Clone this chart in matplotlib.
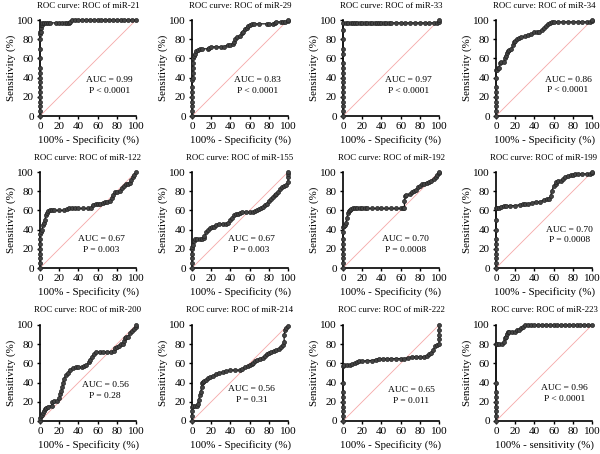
import matplotlib
matplotlib.use("Agg")
import matplotlib.pyplot as plt

plt.rcParams['font.family'] = ['Liberation Serif', 'DejaVu Serif']

titles = ["ROC curve: ROC of miR-21", "ROC curve: ROC of miR-29", "ROC curve: ROC of miR-33", "ROC curve: ROC of miR-34",
          "ROC curve: ROC of miR-122", "ROC curve: ROC of miR-155", "ROC curve: ROC of miR-192", "ROC curve: ROC of miR-199",
          "ROC curve: ROC of miR-200", "ROC curve: ROC of miR-214", "ROC curve: ROC of miR-222", "ROC curve: ROC of miR-223"]
auc_text = ["AUC = 0.99", "AUC = 0.83", "AUC = 0.97", "AUC = 0.86",
            "AUC = 0.67", "AUC = 0.67", "AUC = 0.70", "AUC = 0.70",
            "AUC = 0.56", "AUC = 0.56", "AUC = 0.65", "AUC = 0.96"]
p_text = ["P < 0.0001", "P < 0.0001", "P < 0.0001", "P < 0.0001",
          "P = 0.003", "P = 0.003", "P = 0.0008", "P = 0.0008",
          "P = 0.28", "P = 0.31", "P = 0.011", "P < 0.0001"]
xlabels = ["100% - Specificity (%)"] * 11 + ["100% - sensitivity (%)"]

# ROC curve points (x = 100% - specificity, y = sensitivity)
x21 = [0, 0, 0, 0, 0, 0, 0, 0, 0, 0, 0, 0, 0, 0, 0, 0, 1, 1, 1, 2, 2, 4, 6, 8, 10, 17, 20, 23, 26, 28, 30, 31, 33, 36, 40, 44, 48, 52, 56, 60, 64, 68, 72, 76, 80, 84, 88, 92, 96, 100]
y21 = [0, 5, 10, 15, 20, 25, 30, 35, 40, 45, 50, 60, 70, 80, 85, 88, 88, 92, 95, 95, 97, 97, 97, 97, 97, 97, 97, 97, 97, 97, 97, 98, 100, 100, 100, 100, 100, 100, 100, 100, 100, 100, 100, 100, 100, 100, 100, 100, 100, 100]

x29 = [0, 0, 0, 0, 0, 0, 0, 0, 1, 1, 1, 1, 1, 2, 3, 4, 6, 8, 10, 17, 18, 20, 25, 30, 33, 37, 40, 43, 44, 45, 47, 50, 52, 53, 55, 57, 58, 60, 62, 65, 70, 78, 80, 84, 86, 88, 93, 95, 97, 100, 100]
y29 = [0, 5, 10, 15, 20, 25, 30, 37, 40, 45, 50, 55, 60, 63, 65, 68, 69, 70, 70, 70, 71, 72, 72, 72, 72, 74, 74, 75, 77, 80, 82, 83, 86, 88, 91, 92, 94, 95, 96, 96, 96, 96, 96, 96, 97, 98, 98, 98, 98, 99, 100]

x33 = [0, 0, 0, 0, 0, 0, 0, 0, 0, 0, 0, 0, 0, 0, 0, 0, 0, 3, 5, 8, 10, 13, 15, 18, 20, 23, 25, 28, 30, 33, 35, 38, 40, 43, 45, 48, 50, 55, 60, 65, 70, 75, 80, 85, 90, 95, 98, 100, 100]
y33 = [0, 5, 10, 15, 20, 25, 30, 35, 40, 45, 50, 55, 65, 70, 80, 90, 97, 97, 97, 97, 97, 97, 97, 97, 97, 97, 97, 97, 97, 97, 97, 97, 97, 97, 97, 97, 97, 97, 97, 97, 97, 97, 97, 97, 97, 97, 97, 98, 100]

x34 = [0, 0, 0, 0, 0, 0, 0, 0, 0, 1, 2, 3, 4, 5, 8, 9, 10, 11, 12, 14, 16, 18, 19, 20, 22, 24, 26, 30, 33, 36, 40, 43, 45, 48, 50, 52, 54, 56, 58, 60, 65, 70, 75, 80, 85, 90, 95, 98, 100, 100]
y34 = [0, 5, 10, 15, 20, 25, 30, 40, 48, 48, 50, 50, 55, 56, 56, 60, 63, 66, 68, 69, 70, 74, 77, 78, 80, 81, 82, 83, 84, 85, 87, 87, 88, 90, 92, 94, 96, 97, 98, 98, 98, 98, 98, 98, 98, 98, 98, 98, 99, 100]

x122 = [0, 0, 0, 0, 0, 0, 0, 0, 1, 2, 3, 4, 5, 6, 7, 8, 10, 12, 15, 20, 25, 28, 30, 33, 36, 40, 45, 50, 53, 55, 58, 60, 63, 66, 68, 70, 73, 75, 76, 78, 80, 83, 85, 88, 90, 92, 94, 95, 97, 98, 100]
y122 = [0, 5, 10, 15, 20, 25, 30, 35, 38, 40, 45, 47, 50, 55, 57, 59, 60, 60, 60, 60, 60, 61, 62, 62, 62, 62, 62, 62, 63, 66, 67, 67, 67, 68, 69, 69, 70, 73, 76, 79, 79, 80, 83, 85, 88, 88, 89, 92, 95, 97, 100]

x155 = [0, 0, 0, 0, 0, 0, 1, 2, 3, 5, 8, 10, 12, 13, 15, 17, 19, 21, 23, 25, 28, 32, 35, 38, 40, 42, 44, 46, 48, 50, 52, 56, 60, 64, 66, 68, 70, 72, 74, 76, 78, 80, 82, 84, 86, 88, 90, 92, 94, 96, 98, 100, 100, 100, 100]
y155 = [0, 5, 10, 15, 20, 22, 24, 28, 30, 30, 30, 30, 31, 33, 37, 40, 42, 43, 43, 45, 46, 46, 46, 47, 50, 52, 55, 56, 56, 57, 58, 58, 58, 58, 59, 60, 61, 63, 64, 66, 67, 70, 72, 74, 76, 77, 79, 82, 84, 85, 86, 90, 95, 98, 100]

x192 = [0, 0, 0, 0, 0, 0, 0, 0, 0, 1, 2, 3, 4, 5, 6, 7, 8, 10, 12, 15, 18, 20, 23, 25, 30, 35, 40, 45, 50, 55, 60, 63, 64, 64, 65, 66, 70, 72, 74, 76, 78, 80, 82, 84, 87, 90, 92, 95, 97, 98, 100, 100]
y192 = [0, 5, 10, 15, 20, 25, 30, 38, 43, 44, 45, 47, 52, 57, 59, 60, 61, 62, 62, 62, 62, 62, 62, 62, 62, 62, 62, 62, 62, 62, 62, 62, 62, 70, 75, 76, 77, 79, 80, 81, 84, 85, 87, 88, 89, 90, 91, 93, 95, 97, 99, 100]

x199 = [0, 0, 0, 0, 0, 0, 0, 0, 0, 0, 1, 3, 5, 8, 10, 15, 20, 25, 28, 30, 33, 38, 42, 46, 50, 53, 55, 57, 58, 60, 62, 63, 65, 68, 70, 72, 75, 78, 80, 82, 85, 90, 95, 98, 100, 100]
y199 = [0, 5, 10, 15, 20, 25, 30, 40, 50, 62, 62, 63, 64, 65, 65, 65, 65, 66, 67, 67, 67, 68, 69, 69, 71, 72, 72, 75, 80, 85, 88, 90, 91, 91, 93, 95, 96, 97, 97, 98, 98, 98, 98, 98, 99, 100]

x200 = [0, 0, 1, 2, 3, 4, 5, 6, 8, 12, 13, 15, 18, 20, 21, 22, 23, 24, 25, 27, 29, 31, 34, 37, 40, 44, 46, 48, 51, 52, 54, 56, 58, 62, 66, 70, 74, 77, 78, 80, 82, 84, 86, 88, 89, 90, 92, 94, 96, 98, 100, 100]
y200 = [0, 3, 5, 6, 8, 10, 12, 14, 15, 16, 20, 21, 21, 24, 28, 31, 35, 40, 44, 48, 50, 53, 55, 56, 56, 56, 57, 58, 61, 64, 67, 70, 72, 72, 72, 72, 72, 73, 76, 77, 78, 80, 80, 83, 86, 87, 88, 92, 94, 96, 98, 100]

x214 = [0, 0, 0, 0, 1, 3, 5, 6, 7, 8, 9, 10, 10, 11, 13, 15, 17, 19, 22, 25, 28, 32, 35, 40, 45, 50, 52, 55, 58, 60, 62, 64, 66, 68, 71, 74, 76, 78, 80, 82, 85, 88, 91, 93, 95, 96, 96, 97, 98, 100]
y214 = [0, 5, 10, 15, 16, 16, 16, 18, 22, 27, 30, 35, 40, 41, 42, 43, 45, 46, 47, 49, 50, 51, 52, 53, 53, 53, 54, 56, 57, 58, 59, 60, 62, 64, 65, 66, 68, 70, 71, 72, 73, 74, 75, 77, 79, 82, 90, 95, 97, 99]

x222 = [0, 0, 0, 0, 0, 0, 0, 0, 0, 1, 4, 7, 9, 12, 15, 17, 20, 25, 30, 34, 37, 42, 46, 50, 55, 60, 64, 68, 72, 76, 80, 84, 88, 90, 92, 94, 96, 98, 100, 100, 100, 100, 100]
y222 = [0, 5, 10, 15, 20, 25, 30, 40, 57, 58, 58, 58, 59, 60, 61, 62, 62, 63, 63, 64, 65, 65, 65, 65, 65, 65, 65, 66, 67, 67, 67, 67, 68, 70, 71, 74, 78, 79, 80, 85, 90, 95, 100]

x223 = [0, 0, 0, 0, 0, 0, 0, 0, 0, 1, 3, 6, 8, 9, 10, 11, 12, 14, 17, 20, 22, 24, 26, 28, 30, 33, 36, 40, 44, 48, 52, 56, 60, 64, 68, 72, 76, 80, 84, 88, 92, 96, 100]
y223 = [0, 5, 10, 15, 20, 25, 30, 40, 80, 80, 80, 80, 82, 86, 88, 91, 93, 93, 93, 93, 95, 95, 97, 98, 100, 100, 100, 100, 100, 100, 100, 100, 100, 100, 100, 100, 100, 100, 100, 100, 100, 100, 100]

xs = [x21, x29, x33, x34, x122, x155, x192, x199, x200, x214, x222, x223]
ys = [y21, y29, y33, y34, y122, y155, y192, y199, y200, y214, y222, y223]

# annotation positions (data coords)
auc_pos = [(72, 37), (68, 37), (68, 37), (75, 38),
           (64, 30), (62, 30), (65, 30), (77, 40),
           (68, 37), (62, 33), (71, 32), (71, 34)]

W, H = 600, 454
fig = plt.figure(figsize=(6, 4.54), dpi=100)
col_left = [40, 192, 343, 496]
row_bottom = [116, 268, 421]
aw, ah = 96, 96

for i in range(12):
    r, c = divmod(i, 4)
    ax = fig.add_axes([col_left[c] / W, 1 - row_bottom[r] / H, aw / W, ah / H])
    ax.plot([0, 100], [0, 100], color='#f5a8a8', lw=0.6, zorder=1)
    ax.plot(xs[i], ys[i], color='#111111', lw=0.9, marker='o', ms=2.9,
            mfc='#444444', mec='#222222', mew=0.5, clip_on=False, zorder=3)
    ax.set_xlim(0, 100)
    ax.set_ylim(0, 100)
    ax.set_xticks([0, 20, 40, 60, 80, 100])
    ax.set_yticks([0, 20, 40, 60, 80, 100])
    ax.spines['top'].set_visible(False)
    ax.spines['right'].set_visible(False)
    for s in ('left', 'bottom'):
        ax.spines[s].set_linewidth(1.2)
    ax.tick_params(labelsize=8, length=2.5, width=1, pad=2)
    ax.set_title(titles[i], fontsize=6.4, pad=9)
    ax.set_xlabel(xlabels[i], fontsize=7.8, labelpad=3)
    ax.set_ylabel("Sensitivity (%)", fontsize=7.8, labelpad=1)
    px, py = auc_pos[i]
    ax.text(px, py, auc_text[i], fontsize=6.8, ha='center', va='center')
    ax.text(px, py - 11, p_text[i], fontsize=6.8, ha='center', va='center')

fig.savefig("out.png", dpi=100)
